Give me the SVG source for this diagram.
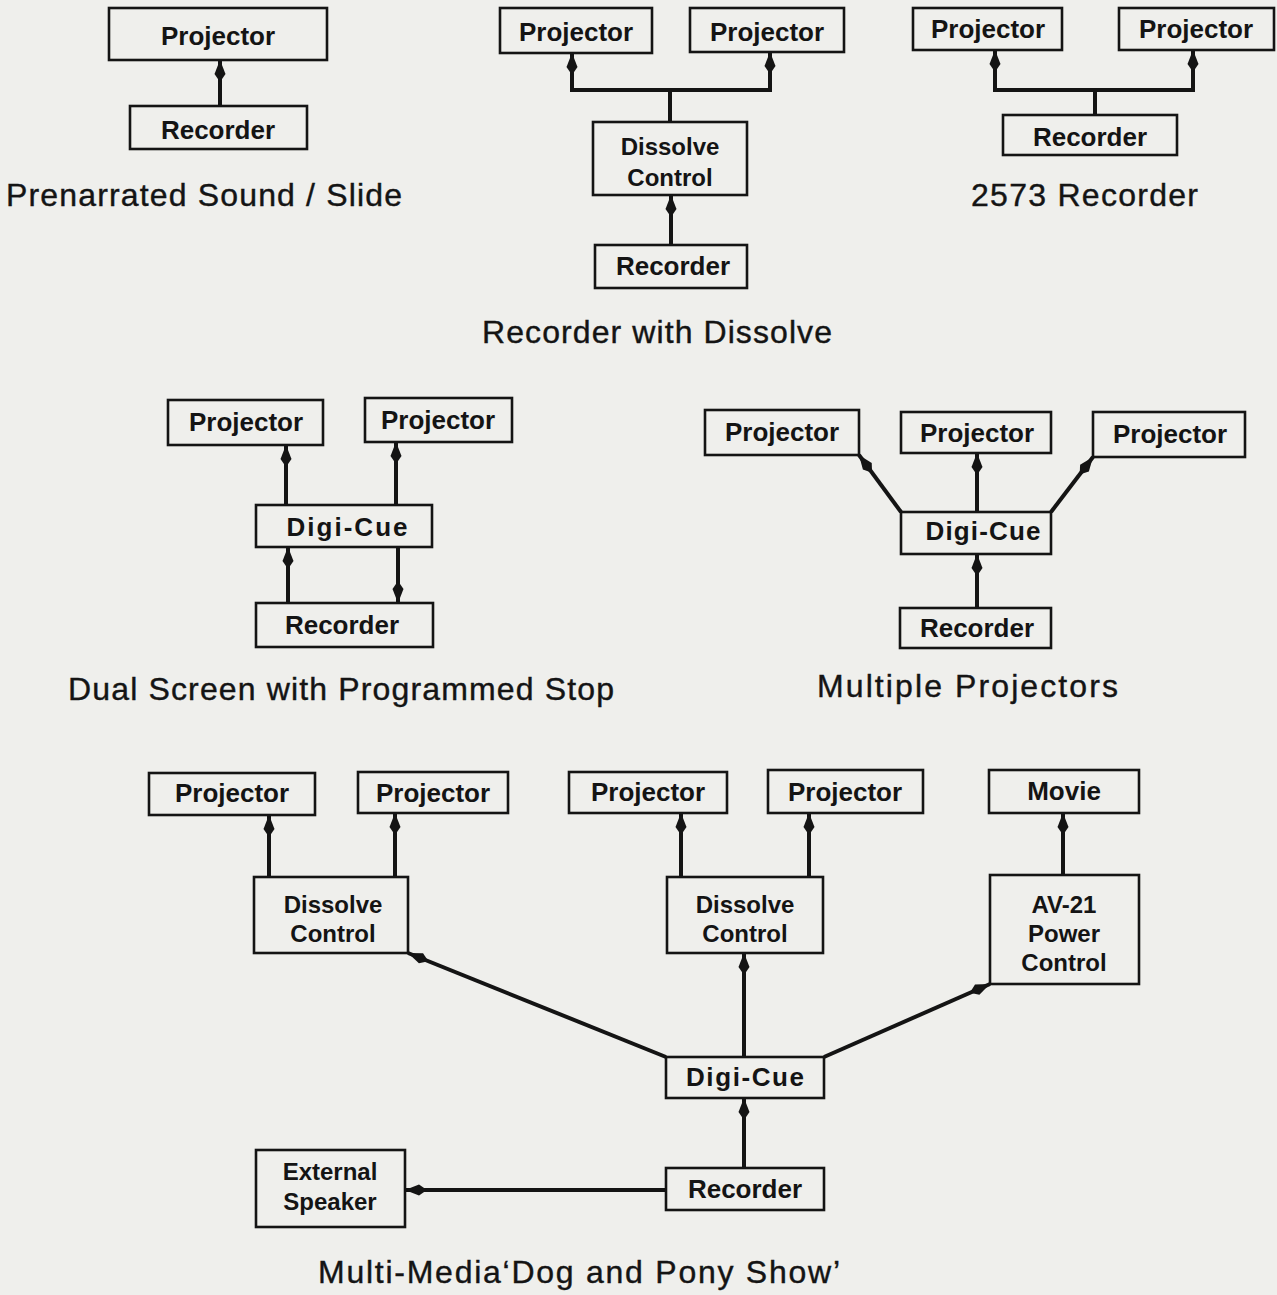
<svg xmlns="http://www.w3.org/2000/svg" width="1277" height="1295" viewBox="0 0 1277 1295">
<style>
.bg{fill:#efefec}
.box{fill:none;stroke:#141414;stroke-width:2.6}
.lbl{font-family:"Liberation Sans",Arial,sans-serif;font-weight:bold;font-size:26px;text-anchor:middle;fill:#141414}
.ml{font-size:24px}
.cap{font-family:"Liberation Sans",Arial,sans-serif;font-size:32px;fill:#141414;stroke:#141414;stroke-width:0.4}
.conn{fill:none;stroke:#141414;stroke-width:4;stroke-linejoin:miter}
.arr{marker-end:url(#ah)}
</style>
<defs>
<marker id="ah" viewBox="0 0 22 12" refX="22" refY="6" markerWidth="22" markerHeight="12" markerUnits="userSpaceOnUse" orient="auto">
<path d="M0,6 L8,0.5 L22,6 L8,11.5 Z" fill="#141414"/>
</marker>
</defs>
<rect class="bg" x="0" y="0" width="1277" height="1295"/>

<g id="connectors">
<path class="conn arr" d="M220,106 V60"/>
<path class="conn arr" d="M670,122 V90 H572 V53"/>
<path class="conn arr" d="M670,90 H770 V52"/>
<path class="conn arr" d="M671,245 V195"/>
<path class="conn arr" d="M1095,115 V90 H995 V50"/>
<path class="conn arr" d="M1095,90 H1193 V50"/>
<path class="conn arr" d="M286,505 V445"/>
<path class="conn arr" d="M396,505 V442"/>
<path class="conn arr" d="M288,603 V547"/>
<path class="conn arr" d="M398,547 V603"/>
<path class="conn arr" d="M901,512 L859,455"/>
<path class="conn arr" d="M977,512 V453"/>
<path class="conn arr" d="M1051,512 L1093,457"/>
<path class="conn arr" d="M977,608 V554"/>
<path class="conn arr" d="M269,877 V815"/>
<path class="conn arr" d="M395,877 V813"/>
<path class="conn arr" d="M681,877 V813"/>
<path class="conn arr" d="M809,877 V813"/>
<path class="conn arr" d="M1063,875 V813"/>
<path class="conn arr" d="M666,1057 L408,953"/>
<path class="conn arr" d="M744,1057 V953"/>
<path class="conn arr" d="M824,1057 L990,984"/>
<path class="conn arr" d="M744,1168 V1098"/>
<path class="conn arr" d="M666,1190 H405"/>
</g>

<g id="d1-projector"><rect class="box" x="109" y="8" width="218" height="52"/><text class="lbl" x="218" y="45">Projector</text></g>
<g id="d1-recorder"><rect class="box" x="130" y="106" width="177" height="43"/><text class="lbl" x="218" y="139">Recorder</text></g>
<text class="cap" x="6" y="206" textLength="396">Prenarrated Sound / Slide</text>

<g id="d2-projector-left"><rect class="box" x="500" y="8" width="152" height="45"/><text class="lbl" x="576" y="41">Projector</text></g>
<g id="d2-projector-right"><rect class="box" x="690" y="8" width="154" height="44"/><text class="lbl" x="767" y="41">Projector</text></g>
<g id="d2-dissolve"><rect class="box" x="593" y="122" width="154" height="73"/><text class="lbl ml" x="670" y="155">Dissolve</text><text class="lbl ml" x="670" y="186">Control</text></g>
<g id="d2-recorder"><rect class="box" x="595" y="245" width="152" height="43"/><text class="lbl" x="673" y="275">Recorder</text></g>
<text class="cap" x="482" y="343" textLength="350">Recorder with Dissolve</text>

<g id="d3-projector-left"><rect class="box" x="913" y="8" width="149" height="42"/><text class="lbl" x="988" y="38">Projector</text></g>
<g id="d3-projector-right"><rect class="box" x="1119" y="8" width="155" height="42"/><text class="lbl" x="1196" y="38">Projector</text></g>
<g id="d3-recorder"><rect class="box" x="1003" y="115" width="174" height="40"/><text class="lbl" x="1090" y="146">Recorder</text></g>
<text class="cap" x="971" y="206" textLength="227">2573 Recorder</text>

<g id="d4-projector-left"><rect class="box" x="168" y="400" width="155" height="45"/><text class="lbl" x="246" y="431">Projector</text></g>
<g id="d4-projector-right"><rect class="box" x="365" y="398" width="147" height="44"/><text class="lbl" x="438" y="429">Projector</text></g>
<g id="d4-digicue"><rect class="box" x="256" y="505" width="176" height="42"/><text class="lbl" x="347" y="536" textLength="121">Digi-Cue</text></g>
<g id="d4-recorder"><rect class="box" x="256" y="603" width="177" height="44"/><text class="lbl" x="342" y="634">Recorder</text></g>
<text class="cap" x="68" y="700" textLength="546">Dual Screen with Programmed Stop</text>

<g id="d5-projector-left"><rect class="box" x="705" y="410" width="154" height="45"/><text class="lbl" x="782" y="441">Projector</text></g>
<g id="d5-projector-mid"><rect class="box" x="901" y="412" width="150" height="41"/><text class="lbl" x="977" y="442">Projector</text></g>
<g id="d5-projector-right"><rect class="box" x="1093" y="412" width="152" height="45"/><text class="lbl" x="1170" y="443">Projector</text></g>
<g id="d5-digicue"><rect class="box" x="901" y="512" width="150" height="42"/><text class="lbl" x="983" y="540" textLength="115">Digi-Cue</text></g>
<g id="d5-recorder"><rect class="box" x="900" y="608" width="151" height="40"/><text class="lbl" x="977" y="637">Recorder</text></g>
<text class="cap" x="817" y="697" textLength="301">Multiple Projectors</text>

<g id="d6-projector-1"><rect class="box" x="149" y="773" width="166" height="42"/><text class="lbl" x="232" y="802">Projector</text></g>
<g id="d6-projector-2"><rect class="box" x="358" y="772" width="150" height="41"/><text class="lbl" x="433" y="802">Projector</text></g>
<g id="d6-projector-3"><rect class="box" x="569" y="772" width="158" height="41"/><text class="lbl" x="648" y="801">Projector</text></g>
<g id="d6-projector-4"><rect class="box" x="768" y="770" width="155" height="43"/><text class="lbl" x="845" y="801">Projector</text></g>
<g id="d6-movie"><rect class="box" x="989" y="770" width="150" height="43"/><text class="lbl" x="1064" y="800">Movie</text></g>
<g id="d6-dissolve-1"><rect class="box" x="254" y="877" width="154" height="76"/><text class="lbl ml" x="333" y="913">Dissolve</text><text class="lbl ml" x="333" y="942">Control</text></g>
<g id="d6-dissolve-2"><rect class="box" x="667" y="877" width="156" height="76"/><text class="lbl ml" x="745" y="913">Dissolve</text><text class="lbl ml" x="745" y="942">Control</text></g>
<g id="d6-av21"><rect class="box" x="990" y="875" width="149" height="109"/><text class="lbl ml" x="1064" y="913">AV-21</text><text class="lbl ml" x="1064" y="942">Power</text><text class="lbl ml" x="1064" y="971">Control</text></g>
<g id="d6-digicue"><rect class="box" x="666" y="1057" width="158" height="41"/><text class="lbl" x="745" y="1086" textLength="118">Digi-Cue</text></g>
<g id="d6-recorder"><rect class="box" x="666" y="1168" width="158" height="42"/><text class="lbl" x="745" y="1198">Recorder</text></g>
<g id="d6-speaker"><rect class="box" x="256" y="1150" width="149" height="77"/><text class="lbl ml" x="330" y="1180">External</text><text class="lbl ml" x="330" y="1210">Speaker</text></g>
<text class="cap" x="318" y="1283" textLength="522">Multi-Media‘Dog and Pony Show’</text>
</svg>
